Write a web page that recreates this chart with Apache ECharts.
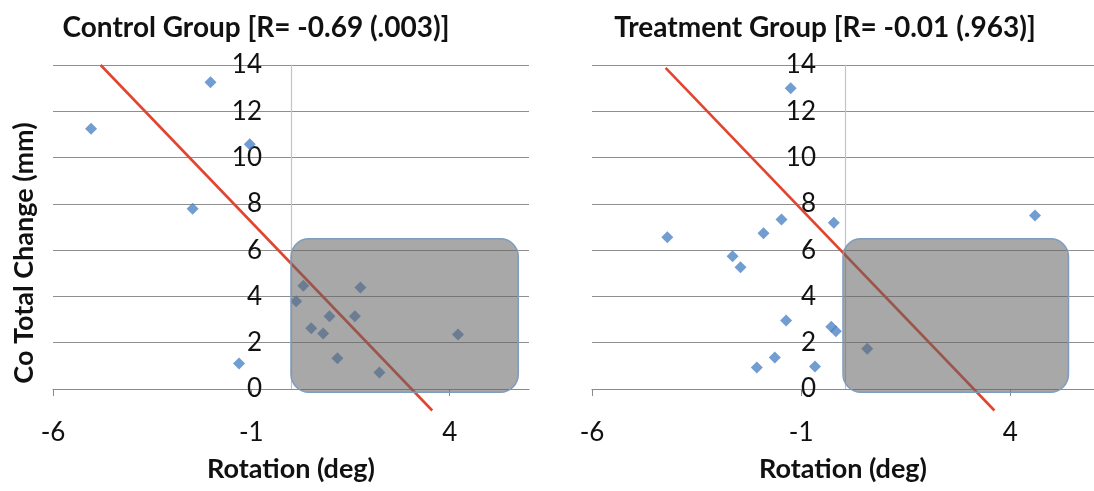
<!DOCTYPE html>
<html>
<head>
<meta charset="utf-8">
<title>Rotation vs Co Total Change</title>
<script src="https://cdn.jsdelivr.net/npm/echarts@6/dist/echarts.min.js"></script>
<style>
  html, body { margin: 0; padding: 0; background: #ffffff; }
  #chart { width: 1094px; height: 491px; }
</style>
</head>
<body>
<div id="chart"></div>
<script>
// Rotation (deg) and Co total change (mm) per patient
const controlRotation = [-5.04, -2.03, -1.04, -2.48, -1.31, 0.13, 0.31, 0.51, 0.81, 0.97, 1.17, 1.61, 1.75, 2.23, 4.21];
const controlChange   = [11.25, 13.26, 10.58, 7.79, 1.10, 3.79, 4.46, 2.63, 2.40, 3.14, 1.33, 3.14, 4.39, 0.71, 2.36];

const treatmentRotation = [-1.25, -4.20, -1.90, -1.47, -0.22, 4.59, -2.64, -2.45, -1.36, -2.06, -1.63, -0.67, -0.28, -0.17, 0.58];
const treatmentChange   = [12.99, 6.56, 6.73, 7.32, 7.18, 7.50, 5.74, 5.26, 2.96, 0.93, 1.36, 0.97, 2.69, 2.50, 1.74];

// Linear trend lines (end points)
const controlTrendX = [-4.80, 3.56];
const controlTrendY = [14.00, -0.93];
const treatmentTrendX = [-4.24, 3.62];
const treatmentTrendY = [13.88, -0.93];

// Highlighted target region: [xMin, yMin, xMax, yMax]
const controlBox = [0, -0.14, 5.73, 6.49];
const treatmentBox = [0, -0.14, 5.39, 6.49];

// Axis ticks
const xRange = [-6, 6];
const xTickValues = [-6, -1, 4];
const yTicks = [0, 2, 4, 6, 8, 10, 12, 14];

const titles = ['Control Group [R= -0.69 (.003)]', 'Treatment Group [R= -0.01 (.963)]'];
const xName = 'Rotation (deg)';
const yName = 'Co Total Change (mm)';

const FONT = 'Lato, "Open Sans", sans-serif';
const TEXT = '#111111';
const POINT = '#4f85c4';
const TREND = '#e2452f';

const grids = [
  { left: 53, top: 65, width: 476, height: 324 },
  { left: 592, top: 65, width: 506, height: 324 }
];

const pairs = (xs, ys) => xs.map((x, i) => [x, ys[i]]);

function xAxisFor(gridIndex) {
  return {
    gridIndex,
    type: 'value',
    min: xRange[0],
    max: xRange[1],
    interval: 5,
    name: xName,
    nameLocation: 'middle',
    nameGap: 67,
    nameTextStyle: { fontFamily: FONT, fontSize: 27, fontWeight: 'bold', color: TEXT },
    axisLine: { onZero: false, lineStyle: { color: '#8a8a8a', width: 1.2 } },
    axisTick: { show: true, length: 7, customValues: xTickValues, lineStyle: { color: '#8a8a8a' } },
    axisLabel: { customValues: xTickValues, margin: 31, fontFamily: FONT, fontSize: 26, color: TEXT },
    splitLine: { show: false }
  };
}

// The vertical axis crosses the horizontal one at rotation = 0
function yAxisFor(gridIndex) {
  const g = grids[gridIndex];
  const zeroShift = g.width * (0 - xRange[0]) / (xRange[1] - xRange[0]);
  return {
    gridIndex,
    type: 'value',
    position: 'left',
    offset: -zeroShift,
    min: yTicks[0],
    max: yTicks[yTicks.length - 1],
    interval: yTicks[1] - yTicks[0],
    axisLine: { show: true, onZero: false, lineStyle: { color: '#c4c4c4', width: 1.2 } },
    axisTick: { show: false },
    axisLabel: { margin: 29, padding: [7, 0, 0, 0], fontFamily: FONT, fontSize: 26, color: TEXT },
    splitLine: { show: true, lineStyle: { color: '#8f8f8f', width: 1 } }
  };
}

function boxSeries(box, idx) {
  return {
    type: 'custom',
    xAxisIndex: idx,
    yAxisIndex: idx,
    z: 5,
    silent: true,
    data: [box],
    renderItem: function (params, api) {
      const tl = api.coord([api.value(0), api.value(3)]);
      const br = api.coord([api.value(2), api.value(1)]);
      return {
        type: 'rect',
        shape: { x: tl[0], y: tl[1], width: br[0] - tl[0], height: br[1] - tl[1], r: 18 },
        style: { fill: 'rgba(100,100,100,0.56)', stroke: '#7f9cbc', lineWidth: 1.5 }
      };
    }
  };
}

function scatterSeries(xs, ys, idx) {
  return {
    type: 'scatter',
    xAxisIndex: idx,
    yAxisIndex: idx,
    symbol: 'diamond',
    symbolSize: 12,
    itemStyle: { color: POINT },
    z: 3,
    data: pairs(xs, ys)
  };
}

function trendSeries(xs, ys, idx) {
  return {
    type: 'line',
    xAxisIndex: idx,
    yAxisIndex: idx,
    symbol: 'none',
    clip: false,
    z: 4,
    lineStyle: { color: TREND, width: 2.6 },
    data: pairs(xs, ys)
  };
}

const chart = echarts.init(document.getElementById('chart'), null, { renderer: 'canvas' });

chart.setOption({
  animation: false,
  backgroundColor: '#ffffff',
  grid: grids,
  xAxis: [xAxisFor(0), xAxisFor(1)],
  yAxis: [yAxisFor(0), yAxisFor(1)],
  graphic: [
    { type: 'text', x: 256, y: 28,
      style: { text: titles[0], fontFamily: FONT, fontSize: 28, fontWeight: 'bold', fill: TEXT, textAlign: 'center', textVerticalAlign: 'middle' } },
    { type: 'text', x: 825, y: 28,
      style: { text: titles[1], fontFamily: FONT, fontSize: 28, fontWeight: 'bold', fill: TEXT, textAlign: 'center', textVerticalAlign: 'middle' } },
    { type: 'text', x: 24, y: 253, rotation: Math.PI / 2,
      style: { text: yName, fontFamily: FONT, fontSize: 27, fontWeight: 'bold', fill: TEXT, textAlign: 'center', textVerticalAlign: 'middle' } }
  ],
  series: [
    scatterSeries(controlRotation, controlChange, 0),
    trendSeries(controlTrendX, controlTrendY, 0),
    boxSeries(controlBox, 0),
    scatterSeries(treatmentRotation, treatmentChange, 1),
    trendSeries(treatmentTrendX, treatmentTrendY, 1),
    boxSeries(treatmentBox, 1)
  ]
});
</script>
</body>
</html>
